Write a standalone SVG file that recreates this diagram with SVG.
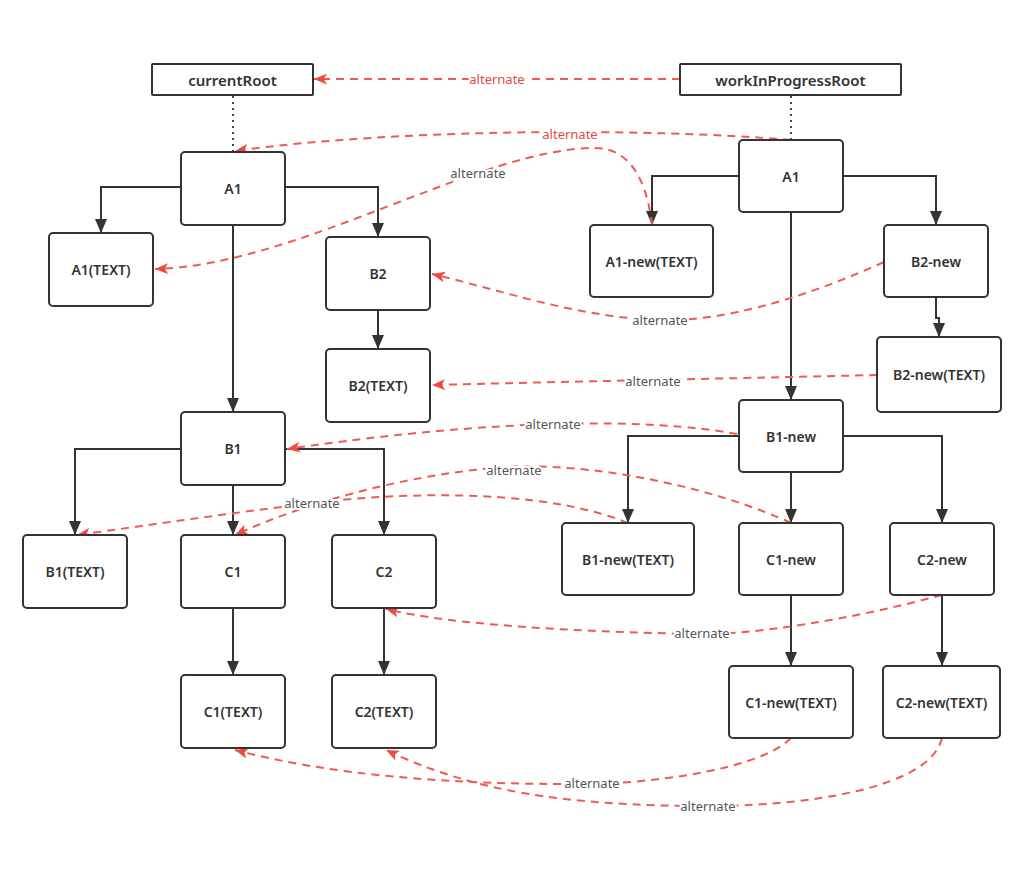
<svg xmlns="http://www.w3.org/2000/svg" width="1024" height="872" viewBox="0 0 1024 872">
<defs>
<marker id="ab" viewBox="0 0 14 12" refX="14" refY="6" markerWidth="14" markerHeight="12" markerUnits="userSpaceOnUse" orient="auto"><path d="M0,0 L14,6 L0,12 z" fill="#333"/></marker>
<marker id="ar" viewBox="0 0 12 10" refX="12" refY="5" markerWidth="13" markerHeight="11" markerUnits="userSpaceOnUse" orient="auto"><path d="M0,0 L12,5 L0,10 L3,5 z" fill="#f04a40"/></marker>
</defs>
<style>
.box{fill:#fff;stroke:#333;stroke-width:2}
.t{font-family:"Noto Sans","Open Sans",sans-serif;font-size:14px;font-weight:600;fill:#333;text-anchor:middle;dominant-baseline:central}
.rt{font-size:15px}
.e{fill:none;stroke:#333;stroke-width:2;marker-end:url(#ab)}
.d{fill:none;stroke:#444;stroke-width:2;stroke-dasharray:2,4}
.r{fill:none;stroke:#f05a52;stroke-width:2;stroke-dasharray:8,6;marker-end:url(#ar)}
.l{font-family:"Noto Sans","Open Sans",sans-serif;font-size:13px;fill:#555;text-anchor:middle;dominant-baseline:central;paint-order:stroke;stroke:#fff;stroke-width:4}
.lr{fill:#e04a44}
</style>
<rect width="1024" height="872" fill="#fff"/>
<g id="connectors">
<line class="d" x1="233" y1="96" x2="233" y2="151"/>
<line class="d" x1="791" y1="96" x2="791" y2="139"/>
<polyline class="e" points="181,187 101,187 101,233"/>
<polyline class="e" points="285,187 378,187 378,237"/>
<polyline class="e" points="233,225 233,412"/>
<polyline class="e" points="378,310 378,349"/>
<polyline class="e" points="181,449 75,449 75,535"/>
<polyline class="e" points="233,485 233,535"/>
<polyline class="e" points="285,449 384,449 384,535"/>
<polyline class="e" points="233,608 233,675"/>
<polyline class="e" points="384,608 384,675"/>
<polyline class="e" points="739,176 652,176 652,225"/>
<polyline class="e" points="843,176 936,176 936,225"/>
<polyline class="e" points="791,212 791,400"/>
<polyline class="e" points="936,297 936,318 939,318 939,337"/>
<polyline class="e" points="739,436 628,436 628,523"/>
<polyline class="e" points="791,472 791,523"/>
<polyline class="e" points="843,436 942,436 942,523"/>
<polyline class="e" points="791,595 791,666"/>
<polyline class="e" points="942,595 942,666"/>
<path class="r" d="M680,79 L314,79"/>
<path class="r" d="M791,140 C650,128 400,128 235,151"/>
<path class="r" d="M652,225 C645,165 620,148 595,148 C480,148 300,265 155,269"/>
<path class="r" d="M884,262 C800,300 720,322 660,320 C580,318 500,290 432,274"/>
<path class="r" d="M877,375 C750,378 550,382 432,385"/>
<path class="r" d="M737,434 C650,418 500,418 287,449"/>
<path class="r" d="M791,523 C720,490 600,462 505,467 C400,475 300,505 235,535"/>
<path class="r" d="M628,523 C560,495 450,490 340,500 C250,510 150,525 77,535"/>
<path class="r" d="M942,595 C850,620 750,635 700,634 C580,632 450,625 386,609"/>
<path class="r" d="M791,738 C760,770 650,783 590,784 C450,785 330,775 235,750"/>
<path class="r" d="M942,738 C930,790 800,806 708,806 C560,806 470,790 386,750"/>
<text class="l lr" x="497" y="79">alternate</text>
<text class="l lr" x="570" y="134">alternate</text>
<text class="l" x="478" y="173">alternate</text>
<text class="l" x="660" y="320">alternate</text>
<text class="l" x="653" y="381">alternate</text>
<text class="l" x="553" y="424">alternate</text>
<text class="l" x="514" y="470">alternate</text>
<text class="l" x="312" y="503">alternate</text>
<text class="l" x="702" y="633">alternate</text>
<text class="l" x="592" y="783">alternate</text>
<text class="l" x="708" y="806">alternate</text>
</g>
<g id="currentRoot"><rect class="box" x="152" y="64" width="161" height="31" rx="1"/><text class="t rt" x="232.5" y="79.5">currentRoot</text></g>
<g id="workInProgressRoot"><rect class="box" x="680" y="64" width="221" height="31" rx="1"/><text class="t rt" x="790.5" y="79.5">workInProgressRoot</text></g>
<g id="A1"><rect class="box" x="181" y="152" width="104" height="73" rx="4"/><text class="t" x="233" y="188.5">A1</text></g>
<g id="A1TEXT"><rect class="box" x="49" y="233" width="104" height="73" rx="4"/><text class="t" x="101" y="269.5">A1(TEXT)</text></g>
<g id="B2"><rect class="box" x="326" y="237" width="104" height="73" rx="4"/><text class="t" x="378" y="273.5">B2</text></g>
<g id="B2TEXT"><rect class="box" x="326" y="349" width="104" height="73" rx="4"/><text class="t" x="378" y="385.5">B2(TEXT)</text></g>
<g id="B1"><rect class="box" x="181" y="412" width="104" height="73" rx="4"/><text class="t" x="233" y="448.5">B1</text></g>
<g id="B1TEXT"><rect class="box" x="23" y="535" width="104" height="73" rx="4"/><text class="t" x="75" y="571.5">B1(TEXT)</text></g>
<g id="C1"><rect class="box" x="181" y="535" width="104" height="73" rx="4"/><text class="t" x="233" y="571.5">C1</text></g>
<g id="C2"><rect class="box" x="332" y="535" width="104" height="73" rx="4"/><text class="t" x="384" y="571.5">C2</text></g>
<g id="C1TEXT"><rect class="box" x="181" y="675" width="104" height="73" rx="4"/><text class="t" x="233" y="711.5">C1(TEXT)</text></g>
<g id="C2TEXT"><rect class="box" x="332" y="675" width="104" height="73" rx="4"/><text class="t" x="384" y="711.5">C2(TEXT)</text></g>
<g id="A1w"><rect class="box" x="739" y="140" width="104" height="72" rx="4"/><text class="t" x="791" y="176">A1</text></g>
<g id="A1newTEXT"><rect class="box" x="590" y="225" width="123" height="72" rx="4"/><text class="t" x="651.5" y="261">A1-new(TEXT)</text></g>
<g id="B2new"><rect class="box" x="884" y="225" width="104" height="72" rx="4"/><text class="t" x="936" y="261">B2-new</text></g>
<g id="B2newTEXT"><rect class="box" x="877" y="337" width="124" height="75" rx="4"/><text class="t" x="939" y="374.5">B2-new(TEXT)</text></g>
<g id="B1new"><rect class="box" x="739" y="400" width="104" height="72" rx="4"/><text class="t" x="791" y="436">B1-new</text></g>
<g id="B1newTEXT"><rect class="box" x="562" y="523" width="132" height="72" rx="4"/><text class="t" x="628" y="559">B1-new(TEXT)</text></g>
<g id="C1new"><rect class="box" x="739" y="523" width="104" height="72" rx="4"/><text class="t" x="791" y="559">C1-new</text></g>
<g id="C2new"><rect class="box" x="890" y="523" width="104" height="72" rx="4"/><text class="t" x="942" y="559">C2-new</text></g>
<g id="C1newTEXT"><rect class="box" x="729" y="666" width="124" height="72" rx="4"/><text class="t" x="791" y="702">C1-new(TEXT)</text></g>
<g id="C2newTEXT"><rect class="box" x="883" y="666" width="117" height="72" rx="4"/><text class="t" x="941.5" y="702">C2-new(TEXT)</text></g>
</svg>
